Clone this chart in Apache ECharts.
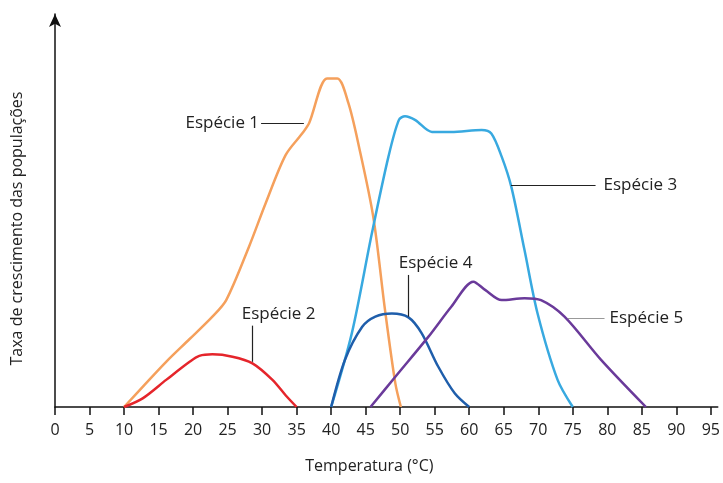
<!DOCTYPE html>
<html>
<head>
<meta charset="utf-8" />
<title>Taxa de crescimento</title>
<style type="text/css">
body,div{margin:0;padding:0;}
#chart{width:723px;height:483px;}
</style>
<script src="https://cdn.jsdelivr.net/npm/echarts@6/dist/echarts.min.js"></script>
</head>
<body>
<div id="chart"></div>
<script type="text/javascript">
// temperaturas (°C) e taxas
var sp1T = [10, 13, 16.1, 19.5, 22.8, 24.8, 28.1, 30.5, 33.4, 35.8, 36.8, 39.4, 40.9, 42.5, 44, 46.1, 47.8, 49.3, 50.1];
var sp1V = [0, 5.7, 11.5, 17.3, 23, 27.2, 40.8, 51.8, 64.1, 69.6, 72.2, 83.6, 83.6, 77.3, 66.5, 48.4, 24.7, 6, 0];
var sp2T = [10, 12.7, 16.1, 19.5, 20.9, 22.8, 25.7, 28.6, 31.5, 33.4, 35];
var sp2V = [0, 2.2, 6.9, 11.5, 13, 13.4, 12.8, 11.1, 6.9, 3, 0];
var sp3T = [40, 43, 45.9, 48.3, 49.8, 50.7, 52.2, 54.6, 57.4, 61.8, 63.2, 64.7, 66.1, 68, 69.9, 72.8, 75];
var sp3V = [0, 18.8, 44.2, 63.7, 73, 74, 73, 70, 70, 70.5, 69.6, 63.7, 56, 40, 23.8, 6.9, 0];
var sp4T = [40, 42, 44.5, 46.4, 48.8, 51.2, 53.1, 55.5, 57.9, 60];
var sp4V = [0, 12, 20.4, 23, 23.8, 22.8, 18.8, 10.3, 3.5, 0];
var sp5T = [45.7, 49.3, 54.1, 57.4, 60.6, 62.3, 64.7, 68, 70.4, 73.8, 79.1, 85.6];
var sp5V = [0, 7.7, 17.9, 25.5, 31.9, 29.8, 27.2, 27.7, 27.2, 23, 12, 0];
var xTicks = [0, 5, 10, 15, 20, 25, 30, 35, 40, 45, 50, 55, 60, 65, 70, 75, 80, 85, 90, 95];
var names = ['Espécie 1', 'Espécie 2', 'Espécie 3', 'Espécie 4', 'Espécie 5'];
var colors = ['#F5A05C', '#E5252B', '#38A9E0', '#1F5EAB', '#6A3A9A'];
// linhas de chamada: [de, até] em coordenadas do gráfico
var callouts = [
    [[36.05, 72.3], [29.85, 72.3]],
    [[28.5, 11.5], [28.5, 20.7]],
    [[66.05, 56.5], [78.3, 56.5]],
    [[51.1, 23], [51.1, 33.6]],
    [[74.3, 22.6], [79.6, 22.6]]
];
var calloutColor = ['#222', '#222', '#222', '#222', '#999'];
var calloutGap = [2, 3, 8, 3, 5];
var calloutAlign = [null, 'left', null, 'left', null];
var calloutShift = [[0, 0], [-10, 0], [0, 0], [-9, 0], [0, 0]];

function pairs(t, v) {
    var out = [];
    for (var i = 0; i < t.length; i++) out.push([t[i], v[i]]);
    return out;
}

var myChart = echarts.init(document.getElementById('chart'));
var allT = [sp1T, sp2T, sp3T, sp4T, sp5T];
var allV = [sp1V, sp2V, sp3V, sp4V, sp5V];
var series = [];
for (var i = 0; i < 5; i++) {
    var lbl = {
        show: true,
        position: 'end',
        distance: calloutGap[i],
        offset: calloutShift[i],
        formatter: names[i],
        color: '#222',
        fontSize: 17,
        fontFamily: 'Open Sans'
    };
    if (calloutAlign[i]) lbl.align = calloutAlign[i];
    series.push({
        name: names[i],
        type: 'line',
        smooth: 0.3,
        symbol: 'none',
        data: pairs(allT[i], allV[i]),
        lineStyle: {color: colors[i], width: 2.5},
        markLine: {
            silent: true,
            symbol: 'none',
            animation: false,
            lineStyle: {color: calloutColor[i], width: 1.2, type: 'solid'},
            label: lbl,
            data: [[{coord: callouts[i][0]}, {coord: callouts[i][1]}]]
        }
    });
}

var option = {
    animation: false,
    textStyle: {fontFamily: 'Open Sans'},
    grid: {left: 55, right: 2, top: 14, bottom: 76},
    xAxis: {
        type: 'value',
        min: 0,
        max: 96,
        interval: 5,
        name: 'Temperatura (°C)',
        nameLocation: 'middle',
        nameGap: 51,
        nameTextStyle: {color: '#222', fontSize: 16, padding: [0, 34, 0, 0], fontFamily: 'Open Sans'},
        axisLine: {lineStyle: {color: '#111', width: 1.5}},
        axisTick: {customValues: xTicks, length: 8, lineStyle: {color: '#111', width: 1.5}},
        axisLabel: {customValues: xTicks, color: '#222', fontSize: 16, margin: 15, fontFamily: 'Open Sans'},
        splitLine: {show: false}
    },
    yAxis: {
        type: 'value',
        min: 0,
        max: 100,
        name: 'Taxa de crescimento das populações',
        nameLocation: 'middle',
        nameGap: 30,
        nameTextStyle: {color: '#222', fontSize: 16, padding: [0, 36, 0, 0], fontFamily: 'Open Sans'},
        axisLine: {show: true, symbol: ['none', 'arrow'], symbolSize: [9, 13], lineStyle: {color: '#111', width: 1.5}},
        axisTick: {show: false},
        axisLabel: {show: false},
        splitLine: {show: false}
    },
    series: series
};
myChart.setOption(option);
</script>
</body>
</html>
